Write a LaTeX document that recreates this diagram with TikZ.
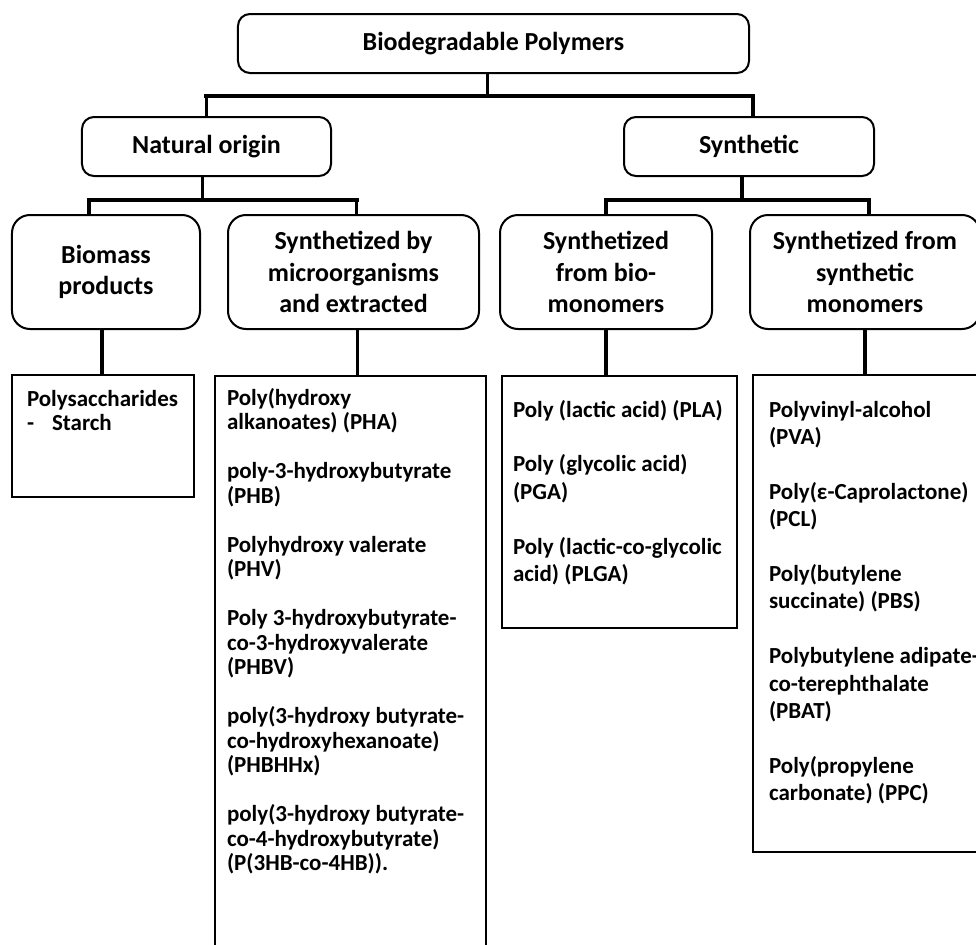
\documentclass[tikz,border=0pt]{standalone}
\usepackage{fontspec}
\setmainfont{Carlito}

\begin{document}
\begin{tikzpicture}[x=1bp, y=-1bp,
  every node/.style={outer sep=0pt},
  head/.style={draw, fill=white, line width=2bp, rounded corners=12bp, align=center, inner sep=0pt, font=\bfseries\fontsize{26bp}{31.5bp}\selectfont},
  subhead/.style={head, rounded corners=18bp, minimum height=114bp},
  listbox/.style={draw, line width=2.2bp, anchor=north west, inner sep=0pt},
  listtext/.style={anchor=north west, align=left, inner sep=0pt, font=\bfseries\fontsize{23bp}{#1}\selectfont},
  listtext/.default=24.5bp,
  stem/.style={line width=3.2bp},
  bar/.style={line width=4.5bp, line cap=rect}]
\useasboundingbox (0,0) rectangle (976,945);
\clip (0,0) rectangle (976,945);

\node[head, minimum width=511bp, minimum height=59bp] (bio) at (493.5,43.5) {Biodegradable Polymers};
\node[head, minimum width=249bp, minimum height=59bp] (nat) at (206.5,146.5) {Natural origin};
\node[head, minimum width=250bp, minimum height=59bp] (syn) at (749,146.5) {Synthetic};

\node[subhead, minimum width=188bp] (biomass) at (106,272) {Biomass\\products};
\node[subhead, minimum width=251bp] (micro) at (353.5,272) {Synthetized by\\microorganisms\\and extracted};
\node[subhead, minimum width=212bp] (biomono) at (606,272) {Synthetized\\from bio-\\monomers};
\node[subhead, minimum width=230bp] (synmono) at (865,272) {Synthetized from\\synthetic\\monomers};

\node[listbox, minimum width=182bp, minimum height=122bp] (starch) at (12,375) {};
\node[listbox, minimum width=271bp, minimum height=600bp] (pha) at (215,376) {};
\node[listbox, minimum width=235bp, minimum height=252bp] (pla) at (502,376) {};
\node[listbox, minimum width=240bp, minimum height=477bp] (pva) at (753,375) {};

\node[listtext] (starcht) at ([shift={(15,15)}]starch.north west) {Polysaccharides\\-\hspace{18bp}Starch};
\node[listtext] (phat) at ([shift={(12,12)}]pha.north west) {Poly(hydroxy\\alkanoates) (PHA)\\[24.5bp]
poly-3-hydroxybutyrate\\(PHB)\\[24.5bp]
Polyhydroxy valerate\\(PHV)\\[24.5bp]
Poly 3-hydroxybutyrate-\\co-3-hydroxyvalerate\\(PHBV)\\[24.5bp]
poly(3-hydroxy butyrate-\\co-hydroxyhexanoate)\\(PHBHHx)\\[24.5bp]
poly(3-hydroxy butyrate-\\co-4-hydroxybutyrate)\\(P(3HB-co-4HB)).};
\node[listtext=27.4bp] (plat) at ([shift={(11,24)}]pla.north west) {Poly (lactic acid) (PLA)\\[27.4bp]
Poly (glycolic acid)\\(PGA)\\[27.4bp]
Poly (lactic-co-glycolic\\acid) (PLGA)};
\node[listtext=27.4bp] (pvat) at ([shift={(16,26)}]pva.north west) {Polyvinyl-alcohol\\(PVA)\\[27.4bp]
Poly(ε-Caprolactone)\\(PCL)\\[27.4bp]
Poly(butylene\\succinate) (PBS)\\[27.4bp]
Polybutylene adipate-\\co-terephthalate\\(PBAT)\\[27.4bp]
Poly(propylene\\carbonate) (PPC)};

\coordinate (lv1) at (0,96);
\coordinate (lv2) at (0,200);

\draw[stem] ([xshift=-6bp]bio.south) -- ([xshift=-6bp]bio.south |- lv1);
\draw[stem] (nat.north) -- (nat.north |- lv1);
\draw[stem] ([xshift=4bp]syn.north) -- ([xshift=4bp]syn.north |- lv1);
\draw[bar] (nat.north |- lv1) -- ([xshift=4bp]syn.north |- lv1);

\draw[stem] ([xshift=-4bp]nat.south) -- ([xshift=-4bp]nat.south |- lv2);
\draw[stem] ([xshift=-17bp]biomass.north) -- ([xshift=-17bp]biomass.north |- lv2);
\draw[stem] ([xshift=3bp]micro.north) -- ([xshift=3bp]micro.north |- lv2);
\draw[bar] ([xshift=-17bp]biomass.north |- lv2) -- ([xshift=3bp]micro.north |- lv2);

\draw[stem] ([xshift=-7bp]syn.south) -- ([xshift=-7bp]syn.south |- lv2);
\draw[stem] (biomono.north) -- (biomono.north |- lv2);
\draw[stem] ([xshift=4bp]synmono.north) -- ([xshift=4bp]synmono.north |- lv2);
\draw[bar] (biomono.north |- lv2) -- ([xshift=4bp]synmono.north |- lv2);

\draw[stem] ([xshift=-4bp]biomass.south) -- ([xshift=-4bp]biomass.south |- starch.north);
\draw[stem] ([xshift=4bp]micro.south) -- ([xshift=4bp]micro.south |- pha.north);
\draw[stem] (biomono.south) -- (biomono.south |- pla.north);
\draw[stem] (synmono.south) -- (synmono.south |- pva.north);
\end{tikzpicture}
\end{document}
